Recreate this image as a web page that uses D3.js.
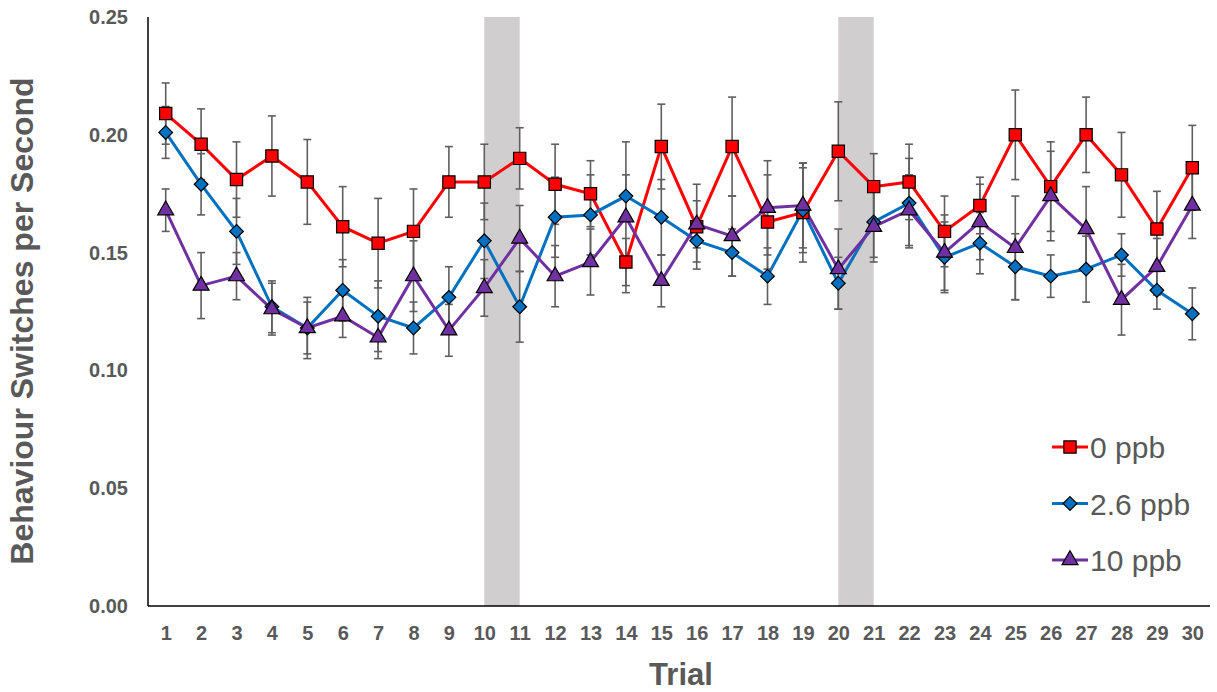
<!DOCTYPE html>
<html>
<head>
<meta charset="utf-8">
<script src="https://cdn.jsdelivr.net/npm/d3@7"></script>
<style>
  body { margin: 0; background: #fff; }
  text { font-family: Arial, "Liberation Sans", sans-serif; fill: #595959; }
</style>
</head>
<body>
<div id="chart"></div>
<script>
const F_WIDTH = 1217;
const F_HEIGHT = 692;
const MARGINS = {left: 148, right: 7, top: 17, bottom: 86};

const VIS_WIDTH = F_WIDTH - MARGINS.left - MARGINS.right;
const VIS_HEIGHT = F_HEIGHT - MARGINS.top - MARGINS.bottom;

// data
const TRIALS = d3.range(1, 31);
const Y_TICKS = [0, 0.05, 0.10, 0.15, 0.20, 0.25];
const SHADED = [[10, 11], [20, 21]];

const SERIES_NAMES = ["0 ppb", "2.6 ppb", "10 ppb"];

const PPB0 = [0.209, 0.196, 0.181, 0.191, 0.180, 0.161, 0.154, 0.159, 0.180, 0.180,
              0.190, 0.179, 0.175, 0.146, 0.195, 0.161, 0.195, 0.163, 0.167, 0.193,
              0.178, 0.180, 0.159, 0.170, 0.200, 0.178, 0.200, 0.183, 0.160, 0.186];
const PPB0_ERR = [0.013, 0.015, 0.016, 0.017, 0.018, 0.017, 0.019, 0.018, 0.015, 0.016,
                  0.013, 0.017, 0.014, 0.010, 0.018, 0.018, 0.021, 0.020, 0.021, 0.021,
                  0.014, 0.016, 0.015, 0.012, 0.019, 0.019, 0.016, 0.018, 0.016, 0.018];

const PPB26 = [0.201, 0.179, 0.159, 0.127, 0.118, 0.134, 0.123, 0.118, 0.131, 0.155,
               0.127, 0.165, 0.166, 0.174, 0.165, 0.155, 0.150, 0.140, 0.168, 0.137,
               0.163, 0.171, 0.148, 0.154, 0.144, 0.140, 0.143, 0.149, 0.134, 0.124];
const PPB26_ERR = [0.011, 0.013, 0.014, 0.011, 0.013, 0.013, 0.015, 0.011, 0.013, 0.016,
                   0.015, 0.017, 0.017, 0.009, 0.016, 0.009, 0.010, 0.012, 0.018, 0.011,
                   0.015, 0.019, 0.015, 0.013, 0.014, 0.009, 0.014, 0.009, 0.008, 0.011];

const PPB10 = [0.168, 0.136, 0.140, 0.126, 0.118, 0.123, 0.114, 0.140, 0.117, 0.135,
               0.156, 0.140, 0.146, 0.165, 0.138, 0.162, 0.157, 0.169, 0.170, 0.143,
               0.161, 0.168, 0.150, 0.163, 0.152, 0.174, 0.160, 0.130, 0.144, 0.170];
const PPB10_ERR = [0.009, 0.014, 0.010, 0.011, 0.011, 0.009, 0.009, 0.015, 0.011, 0.012,
                   0.014, 0.013, 0.014, 0.032, 0.011, 0.010, 0.017, 0.020, 0.018, 0.017,
                   0.015, 0.015, 0.016, 0.016, 0.022, 0.019, 0.018, 0.015, 0.012, 0.014];

const COLORS = d3.scaleOrdinal()
        .domain(SERIES_NAMES)
        .range(["#ff0000", "#0070c0", "#7030a0"]);

const SYMBOLS = d3.scaleOrdinal()
        .domain(SERIES_NAMES)
        .range([d3.symbolSquare, d3.symbolDiamond2, d3.symbolTriangle]);

const SIZES = {"0 ppb": 150, "2.6 ppb": 120, "10 ppb": 110};

const series = [
  {name: "0 ppb", values: PPB0, errs: PPB0_ERR},
  {name: "2.6 ppb", values: PPB26, errs: PPB26_ERR},
  {name: "10 ppb", values: PPB10, errs: PPB10_ERR}
];

const FRAME = d3.select("#chart")
            .append("svg")
              .attr("width", F_WIDTH)
              .attr("height", F_HEIGHT);

const X_SCALE = d3.scaleLinear()
          .domain([0.5, 30.5])
          .range([0, VIS_WIDTH]);

const Y_SCALE = d3.scaleLinear()
          .domain([0, 0.25])
          .range([VIS_HEIGHT, 0]);

const G = FRAME.append("g")
          .attr("transform", "translate(" + MARGINS.left + "," + MARGINS.top + ")");

// grey bands for the shaded trials
G.selectAll(".band")
    .data(SHADED)
    .enter()
    .append("rect")
      .attr("x", (d) => X_SCALE(d[0]))
      .attr("y", 0)
      .attr("width", (d) => X_SCALE(d[1]) - X_SCALE(d[0]))
      .attr("height", VIS_HEIGHT)
      .style("fill", "#d0cece");

// y axis, labels only
const yAxis = G.append("g")
    .call(d3.axisLeft(Y_SCALE).tickValues(Y_TICKS).tickFormat(d3.format(".2f")).tickSize(0).tickPadding(20));
yAxis.select(".domain").remove();
yAxis.selectAll("text")
    .style("font-size", "20px")
    .style("font-weight", "bold")
    .attr("fill", "#595959");

// x axis
const xAxis = G.append("g")
    .attr("transform", "translate(0," + VIS_HEIGHT + ")")
    .call(d3.axisBottom(X_SCALE).tickValues(TRIALS).tickFormat(d3.format("d")).tickSize(0).tickPadding(20));
xAxis.select(".domain").remove();
xAxis.selectAll("text")
    .style("font-size", "20px")
    .style("font-weight", "bold")
    .attr("fill", "#595959");

// axis lines
G.append("line")
    .attr("x1", 0).attr("x2", 0)
    .attr("y1", 0).attr("y2", VIS_HEIGHT)
    .style("stroke", "#000").style("stroke-width", 1.5);
G.append("line")
    .attr("x1", 0).attr("x2", VIS_WIDTH)
    .attr("y1", VIS_HEIGHT).attr("y2", VIS_HEIGHT)
    .style("stroke", "#000").style("stroke-width", 1.5);

// lines
const line = d3.line()
    .x((d, i) => X_SCALE(TRIALS[i]))
    .y((d) => Y_SCALE(d));

series.forEach((s) => {
  G.append("path")
    .datum(s.values)
    .attr("d", line)
    .style("fill", "none")
    .style("stroke", COLORS(s.name))
    .style("stroke-width", 3);
});

// error bars
series.forEach((s) => {
  const eb = G.append("g").selectAll("g")
      .data(s.values.map((v, i) => ({t: TRIALS[i], v: v, e: s.errs[i]})))
      .enter()
      .append("g")
        .style("stroke", "#5f5f5f")
        .style("stroke-width", 1.6);
  eb.append("line")
      .attr("x1", (d) => X_SCALE(d.t)).attr("x2", (d) => X_SCALE(d.t))
      .attr("y1", (d) => Y_SCALE(d.v + d.e)).attr("y2", (d) => Y_SCALE(d.v - d.e));
  [1, -1].forEach((sign) => {
    eb.append("line")
        .attr("x1", (d) => X_SCALE(d.t) - 4).attr("x2", (d) => X_SCALE(d.t) + 4)
        .attr("y1", (d) => Y_SCALE(d.v + sign * d.e)).attr("y2", (d) => Y_SCALE(d.v + sign * d.e));
  });
});

// markers
series.forEach((s) => {
  G.append("g").selectAll("path")
    .data(s.values)
    .enter()
    .append("path")
      .attr("transform", (d, i) => "translate(" + X_SCALE(TRIALS[i]) + "," + Y_SCALE(d) + ")")
      .attr("d", d3.symbol().type(SYMBOLS(s.name)).size(SIZES[s.name]))
      .style("fill", COLORS(s.name))
      .style("stroke", "#000")
      .style("stroke-width", 1.2);
});

// axis titles
FRAME.append("text")
    .attr("x", 681)
    .attr("y", 685)
    .attr("text-anchor", "middle")
    .style("font-size", "31px")
    .style("font-weight", "bold")
    .text("Trial");

FRAME.append("text")
    .attr("transform", "translate(33,321) rotate(-90)")
    .attr("text-anchor", "middle")
    .style("font-size", "32px")
    .style("font-weight", "bold")
    .text("Behaviour Switches per Second");

// legend
const legend = FRAME.append("g")
    .selectAll("g")
    .data(SERIES_NAMES)
    .enter()
    .append("g")
      .attr("transform", (d, i) => "translate(1052," + (447 + i * 56.5) + ")");

legend.append("line")
    .attr("x1", 0).attr("x2", 36)
    .style("stroke", (d) => COLORS(d))
    .style("stroke-width", 3);

legend.append("path")
    .attr("transform", "translate(18,0)")
    .attr("d", (d) => d3.symbol().type(SYMBOLS(d)).size(SIZES[d])())
    .style("fill", (d) => COLORS(d))
    .style("stroke", "#000")
    .style("stroke-width", 1.2);

legend.append("text")
    .attr("x", 38)
    .attr("y", 11)
    .style("font-size", "30px")
    .text((d) => d);
</script>
</body>
</html>
